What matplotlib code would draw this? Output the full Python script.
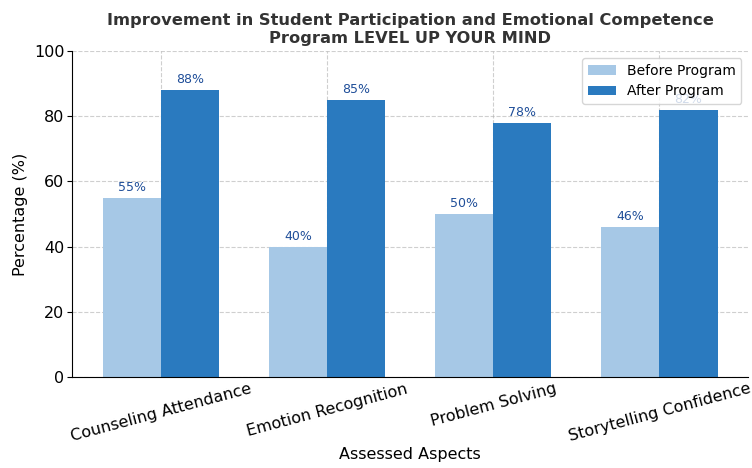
import matplotlib.pyplot as plt
import numpy as np

# data
aspects = ['Counseling Attendance', 'Emotion Recognition', 'Problem Solving', 'Storytelling Confidence']
before = [55, 40, 50, 46]
after = [88, 85, 78, 82]

x = np.arange(len(aspects))
width = 0.35

fig, ax = plt.subplots(figsize=(7.52, 4.68), dpi=100)
fig.subplots_adjust(left=0.096, right=0.995, bottom=0.194, top=0.891)

b1 = ax.bar(x - width / 2, before, width, color='#a6c8e6', label='Before Program')
b2 = ax.bar(x + width / 2, after, width, color='#2a7abf', label='After Program')

for bars in (b1, b2):
    for bar in bars:
        h = bar.get_height()
        ax.text(bar.get_x() + bar.get_width() / 2, h + 1.2, f'{h:.0f}%',
                ha='center', va='bottom', fontsize=9, color='#1f4e99')

ax.set_ylim(0, 100)
ax.set_xticks(x)
ax.set_xticklabels(aspects, rotation=15, fontsize=11.5)
ax.tick_params(axis='x', length=0, pad=3)
ax.tick_params(axis='y', labelsize=11.5, length=3.5, pad=2)
ax.set_xlabel('Assessed Aspects', fontsize=11.5, labelpad=2)
ax.set_ylabel('Percentage (%)', fontsize=11.5, labelpad=4)
ax.set_title('Improvement in Student Participation and Emotional Competence\nProgram LEVEL UP YOUR MIND',
             fontsize=11.7, fontweight='bold', color='#333333', pad=6)
ax.grid(True, linestyle='--', alpha=0.6)
ax.set_axisbelow(True)
ax.spines['top'].set_visible(False)
ax.spines['right'].set_visible(False)
ax.legend(loc='upper right', fontsize=10)

plt.savefig('out.png')
